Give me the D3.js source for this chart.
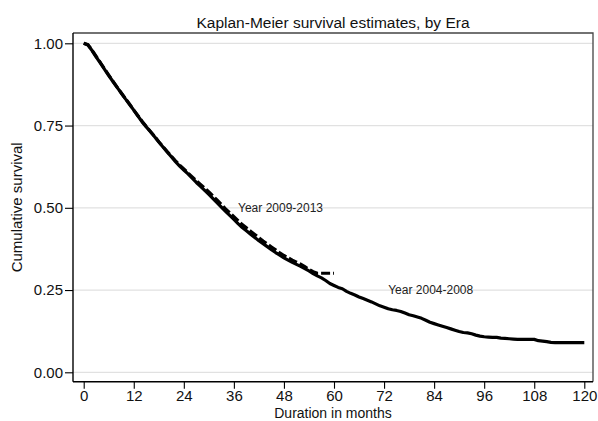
<!DOCTYPE html>
<html>
<head>
<meta charset="utf-8">
<script src="https://cdn.jsdelivr.net/npm/d3@7"></script>
<style>
  html, body { margin: 0; padding: 0; background: #fff; }
  svg { display: block; font-family: "Liberation Sans", Arial, Helvetica, sans-serif; }
</style>
</head>
<body>
<svg id="chart" width="598" height="421"></svg>
<script>
// Kaplan-Meier survival estimates by era, monthly values
const months2004 = d3.range(0, 121);
const surv2004 = [
  1.000, 0.995, 0.978, 0.958, 0.940, 0.921, 0.902, 0.884, 0.866, 0.849,
  0.831, 0.814, 0.797, 0.779, 0.761, 0.746, 0.731, 0.716, 0.700, 0.685,
  0.670, 0.655, 0.640, 0.627, 0.615, 0.603, 0.590, 0.577, 0.565, 0.553,
  0.541, 0.528, 0.515, 0.502, 0.489, 0.477, 0.465, 0.452, 0.440, 0.430,
  0.420, 0.410, 0.400, 0.391, 0.382, 0.373, 0.364, 0.356, 0.348, 0.341,
  0.334, 0.328, 0.322, 0.315, 0.308, 0.300, 0.293, 0.287, 0.279, 0.270,
  0.264, 0.258, 0.254, 0.246, 0.240, 0.235, 0.229, 0.224, 0.219, 0.214,
  0.208, 0.202, 0.198, 0.193, 0.190, 0.188, 0.185, 0.180, 0.175, 0.172,
  0.168, 0.164, 0.158, 0.152, 0.148, 0.144, 0.140, 0.136, 0.132, 0.128,
  0.124, 0.121, 0.120, 0.117, 0.113, 0.110, 0.108, 0.107, 0.106, 0.106,
  0.104, 0.103, 0.102, 0.101, 0.100, 0.100, 0.100, 0.100, 0.100, 0.096,
  0.095, 0.093, 0.091, 0.090, 0.090, 0.090, 0.090, 0.090, 0.090, 0.090,
  0.090
];
const months2009 = d3.range(0, 61);
const surv2009 = [
  1.000, 0.996, 0.979, 0.960, 0.941, 0.922, 0.903, 0.885, 0.867, 0.849,
  0.832, 0.815, 0.797, 0.780, 0.763, 0.747, 0.732, 0.717, 0.701, 0.686,
  0.671, 0.657, 0.643, 0.630, 0.618, 0.606, 0.594, 0.582, 0.571, 0.560,
  0.548, 0.536, 0.523, 0.510, 0.497, 0.485, 0.473, 0.461, 0.449, 0.439,
  0.429, 0.419, 0.409, 0.399, 0.390, 0.381, 0.372, 0.363, 0.355, 0.348,
  0.341, 0.335, 0.329, 0.321, 0.313, 0.306, 0.301, 0.301, 0.301, 0.301,
  0.301
];
const xTicks = [0, 12, 24, 36, 48, 60, 72, 84, 96, 108, 120];
const yTicks = [0, 0.25, 0.5, 0.75, 1];
const seriesLabels = [
  { text: "Year 2009-2013", month: 37, surv: 0.50 },
  { text: "Year 2004-2008", month: 73, surv: 0.25 }
];

const svg = d3.select("#chart");

// plot region and data scales
const region = { left: 73, right: 593, top: 33, bottom: 381.7 };
const x = d3.scaleLinear().domain([0, 120]).range([83.7, 584.3]);
const y = d3.scaleLinear().domain([0, 1]).range([372.3, 43.3]);

// title
svg.append("text")
  .attr("x", (region.left + region.right) / 2)
  .attr("y", 28)
  .attr("text-anchor", "middle")
  .attr("font-size", 15.5)
  .attr("fill", "#111")
  .text("Kaplan-Meier survival estimates, by Era");

// horizontal grid lines
svg.append("g")
  .selectAll("line")
  .data(yTicks)
  .join("line")
  .attr("x1", region.left)
  .attr("x2", region.right)
  .attr("y1", d => y(d))
  .attr("y2", d => y(d))
  .attr("stroke", "#e1e1e1")
  .attr("stroke-width", 1.2);

// top and right outline of the plot region
svg.append("path")
  .attr("d", `M${region.left},${region.top}H${region.right}V${region.bottom}`)
  .attr("fill", "none")
  .attr("stroke", "#444")
  .attr("stroke-width", 1.3);

// axes
const yAxis = d3.axisLeft(y)
  .tickValues(yTicks)
  .tickFormat(d3.format(".2f"))
  .tickSize(8)
  .tickPadding(2);
const yG = svg.append("g")
  .attr("transform", `translate(${region.left},0)`)
  .call(yAxis);
yG.select(".domain").attr("d", `M0,${region.top}V${region.bottom}`);

const xAxis = d3.axisBottom(x)
  .tickValues(xTicks)
  .tickFormat(d3.format("d"))
  .tickSize(7)
  .tickPadding(2);
const xG = svg.append("g")
  .attr("transform", `translate(0,${region.bottom})`)
  .call(xAxis);
xG.select(".domain").attr("d", `M${region.left},0H${region.right}`);

[yG, xG].forEach(g => {
  g.attr("font-family", null).attr("font-size", null);
  g.selectAll(".domain").attr("stroke", "#000").attr("stroke-width", 1.4);
  g.selectAll(".tick line").attr("stroke", "#000").attr("stroke-width", 1.1);
  g.selectAll(".tick text").attr("font-size", 15).attr("fill", "#111");
});

// axis titles
svg.append("text")
  .attr("x", (region.left + region.right) / 2)
  .attr("y", 417.6)
  .attr("text-anchor", "middle")
  .attr("font-size", 14)
  .attr("fill", "#111")
  .text("Duration in months");

svg.append("text")
  .attr("transform", `translate(22,${(region.top + region.bottom) / 2}) rotate(-90)`)
  .attr("text-anchor", "middle")
  .attr("font-size", 15)
  .attr("fill", "#111")
  .text("Cumulative survival");

// survival curves
const line = d3.line()
  .x(d => x(d[0]))
  .y(d => y(d[1]))
  .curve(d3.curveLinear);

svg.append("path")
  .datum(d3.zip(months2009, surv2009))
  .attr("d", line)
  .attr("fill", "none")
  .attr("stroke", "#000")
  .attr("stroke-width", 3.2)
  .attr("stroke-dasharray", "9,3");

svg.append("path")
  .datum(d3.zip(months2004, surv2004))
  .attr("d", line)
  .attr("fill", "none")
  .attr("stroke", "#000")
  .attr("stroke-width", 3.2)
  .attr("stroke-linejoin", "round");

// curve labels
svg.append("g")
  .selectAll("text")
  .data(seriesLabels)
  .join("text")
  .attr("x", d => x(d.month))
  .attr("y", d => y(d.surv))
  .attr("dy", "0.35em")
  .attr("font-size", 12)
  .attr("fill", "#222")
  .text(d => d.text);
</script>
</body>
</html>
